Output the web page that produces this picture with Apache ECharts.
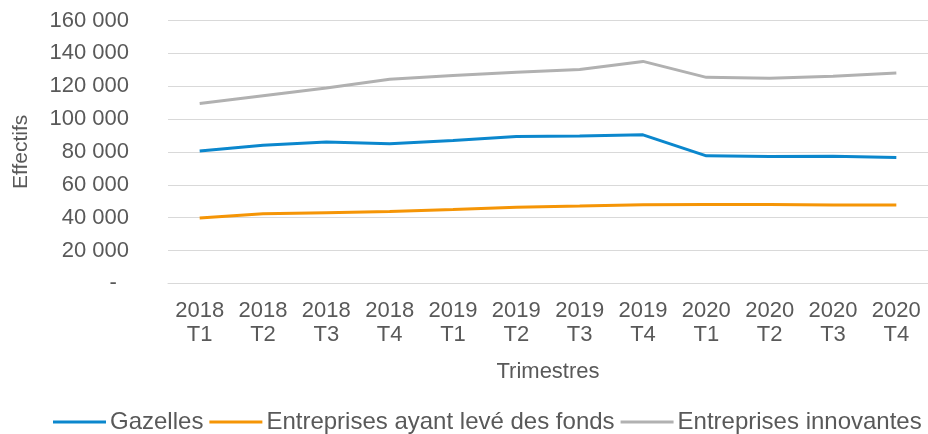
<!DOCTYPE html>
<html>
<head>
<meta charset="utf-8">
<script src="https://cdn.jsdelivr.net/npm/echarts@6/dist/echarts.min.js"></script>
<style>
  html, body { margin: 0; padding: 0; background: #fff; }
  #main { width: 928px; height: 434px; }
</style>
</head>
<body>
<div id="main"></div>
<script>
// trimestres
var categories = ['2018\nT1', '2018\nT2', '2018\nT3', '2018\nT4', '2019\nT1', '2019\nT2',
                  '2019\nT3', '2019\nT4', '2020\nT1', '2020\nT2', '2020\nT3', '2020\nT4'];
// effectifs par série
var gazelles = [80500, 84100, 86000, 85000, 87000, 89400, 89700, 90400, 77600, 77200, 77400, 76600];
var leveFonds = [39800, 42300, 43000, 43700, 44900, 46300, 47000, 47800, 47900, 48000, 47600, 47600];
var innovantes = [109500, 114200, 118900, 124200, 126500, 128500, 130100, 135100, 125400, 124900, 126000, 128000];

var grey = '#595959';
var fnt = 'Liberation Sans, Arial, sans-serif';
var fs = 22;

function fmt(v) {
  if (v === 0) return '-  ';
  return String(v).replace(/\B(?=(\d{3})+(?!\d))/g, ' ');
}

var myChart = echarts.init(document.getElementById('main'));
var option = {
  animation: false,
  textStyle: { fontFamily: fnt },
  grid: { left: 168, right: -4.4, top: 20.5, bottom: 150.7, containLabel: false },
  legend: {
    bottom: 0,
    left: 53,
    padding: 0,
    icon: 'rect',
    itemWidth: 53,
    itemHeight: 3,
    itemGap: 6,
    textStyle: { fontSize: 24, color: grey, fontFamily: fnt, padding: [0, 0, 0, -1] },
    data: ['Gazelles', 'Entreprises ayant levé des fonds', 'Entreprises innovantes']
  },
  xAxis: {
    type: 'category',
    data: categories,
    boundaryGap: true,
    name: 'Trimestres',
    nameLocation: 'middle',
    nameGap: 78,
    nameTextStyle: { fontSize: fs, color: grey },
    axisLine: { lineStyle: { color: '#d9d9d9', width: 1 } },
    axisTick: { alignWithLabel: true, length: 5, lineStyle: { color: '#d9d9d9' } },
    axisLabel: { fontSize: fs, color: grey, lineHeight: 24, margin: 16, interval: 0 }
  },
  yAxis: {
    type: 'value',
    min: 0,
    max: 160000,
    interval: 20000,
    name: 'Effectifs',
    nameLocation: 'middle',
    nameGap: 136,
    nameTextStyle: { fontSize: 21, color: grey },
    axisLine: { show: false },
    axisTick: { show: false },
    splitLine: { lineStyle: { color: '#d9d9d9', width: 1 } },
    axisLabel: { fontSize: fs, color: grey, margin: 39, formatter: fmt }
  },
  series: [
    {
      name: 'Gazelles', type: 'line', data: gazelles, showSymbol: false, symbol: 'none',
      itemStyle: { color: '#0b87cd' }, lineStyle: { color: '#0b87cd', width: 3 }
    },
    {
      name: 'Entreprises ayant levé des fonds', type: 'line', data: leveFonds, showSymbol: false, symbol: 'none',
      itemStyle: { color: '#f59506' }, lineStyle: { color: '#f59506', width: 3 }
    },
    {
      name: 'Entreprises innovantes', type: 'line', data: innovantes, showSymbol: false, symbol: 'none',
      itemStyle: { color: '#b1b1b1' }, lineStyle: { color: '#b1b1b1', width: 3 }
    }
  ]
};
myChart.setOption(option);
</script>
</body>
</html>
